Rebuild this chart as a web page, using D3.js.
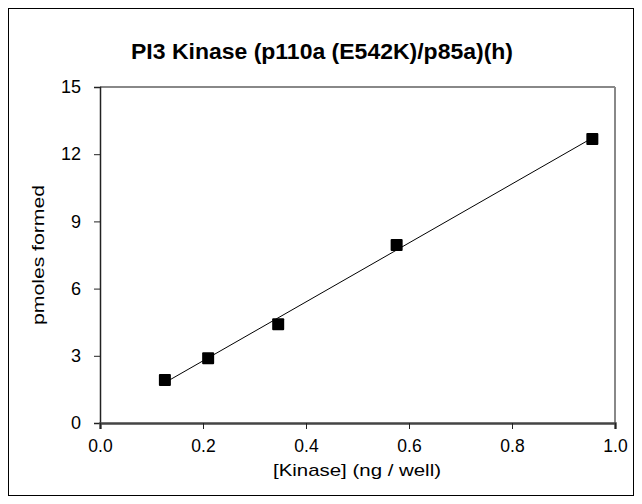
<!DOCTYPE html>
<html><head><meta charset="utf-8">
<script src="https://cdn.jsdelivr.net/npm/d3@7"></script>
<style>body{margin:0;background:#fff;font-family:"Liberation Sans",Arial,sans-serif;}</style>
</head><body><svg id="c" width="642" height="504"></svg>
<script>
const kinase = [0.126, 0.210, 0.346, 0.576, 0.956];
const pmoles = [1.92, 2.89, 4.41, 7.95, 12.68];
const errors = [0.05, 0.05, 0.05, 0.05, 0.2];
const xTicks = [0.0, 0.2, 0.4, 0.6, 0.8, 1.0];
const yTicks = [0, 3, 6, 9, 12, 15];
const title = "PI3 Kinase (p110a (E542K)/p85a)(h)";
const xLabel = "[Kinase] (ng / well)";
const yLabel = "pmoles formed";

const svg = d3.select("#c");
svg.append("rect").attr("x",8.5).attr("y",8.5).attr("width",625).attr("height",487)
  .attr("fill","#fff").attr("stroke","#000").attr("stroke-width",1);

const L=100,R=615,T=87,B=423;
const x = d3.scaleLinear().domain([0,1]).range([L,R]);
const y = d3.scaleLinear().domain([0,15]).range([B,T]);

svg.append("line").attr("x1",L).attr("x2",R).attr("y1",T).attr("y2",T).attr("stroke","#888").attr("stroke-width",2);
svg.append("line").attr("x1",R).attr("x2",R).attr("y1",T).attr("y2",B).attr("stroke","#888").attr("stroke-width",2);

const yAxis = svg.append("g").attr("transform",`translate(${L},0)`)
  .call(d3.axisLeft(y).tickValues(yTicks).tickSize(6).tickPadding(13).tickFormat(d3.format("d")));
yAxis.select(".domain").attr("stroke","#222").attr("stroke-width",1.5);
yAxis.selectAll(".tick line").attr("stroke","#222");
yAxis.selectAll("text").attr("font-size",18).attr("fill","#000").attr("font-family","Liberation Sans, Arial, sans-serif");

const xAxis = svg.append("g").attr("transform",`translate(0,${B})`)
  .call(d3.axisBottom(x).tickValues(xTicks).tickSize(6).tickPadding(11).tickFormat(d3.format(".1f")));
xAxis.select(".domain").attr("stroke","#444").attr("stroke-width",2.5);
xAxis.selectAll(".tick line").attr("stroke","#222");
xAxis.selectAll("text").attr("font-size",17.5).attr("fill","#000").attr("font-family","Liberation Sans, Arial, sans-serif");

const mx=d3.mean(kinase), my=d3.mean(pmoles);
const slope=d3.sum(kinase.map((v,i)=>(v-mx)*(pmoles[i]-my)))/d3.sum(kinase.map(v=>(v-mx)*(v-mx)));
const icpt=my-slope*mx;
const x0=d3.min(kinase), x1=d3.max(kinase);
svg.append("line").attr("x1",x(x0)).attr("y1",y(icpt+slope*x0)).attr("x2",x(x1)).attr("y2",y(icpt+slope*x1))
  .attr("stroke","#000").attr("stroke-width",1);

svg.selectAll(".eb").data(kinase).enter().append("line")
  .attr("x1",d=>x(d)).attr("x2",d=>x(d))
  .attr("y1",(d,i)=>y(pmoles[i]-errors[i])).attr("y2",(d,i)=>y(pmoles[i]+errors[i]))
  .attr("stroke","#000").attr("stroke-width",1);

svg.selectAll(".pt").data(kinase).enter().append("rect")
  .attr("x",d=>x(d)-6).attr("y",(d,i)=>y(pmoles[i])-6).attr("width",12).attr("height",12).attr("rx",1)
  .attr("fill","#000");

svg.append("text").attr("x",322).attr("y",59).attr("text-anchor","middle")
  .attr("font-size",22).attr("font-weight","bold")
  .attr("textLength",382).attr("lengthAdjust","spacingAndGlyphs").text(title);
svg.append("text").attr("x",357).attr("y",476).attr("text-anchor","middle")
  .attr("font-size",17).attr("textLength",168).attr("lengthAdjust","spacingAndGlyphs").text(xLabel);
svg.append("text").attr("transform","translate(44,255) rotate(-90)").attr("text-anchor","middle")
  .attr("font-size",17).attr("textLength",140).attr("lengthAdjust","spacingAndGlyphs").text(yLabel);
</script></body></html>
